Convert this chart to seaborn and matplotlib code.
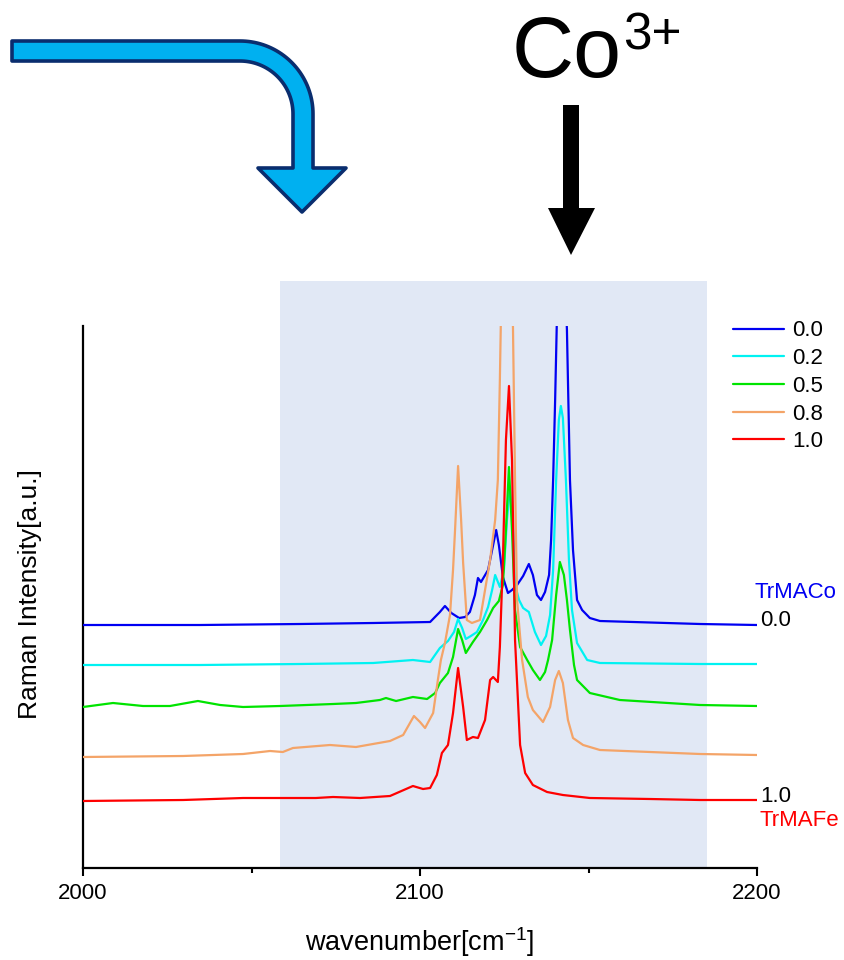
import numpy as np
import pandas as pd
import matplotlib
matplotlib.use('Agg')
import matplotlib.pyplot as plt
import seaborn as sns
from matplotlib.path import Path
from matplotlib.patches import PathPatch, Rectangle, Polygon

# ---------------- data ----------------
series_labels = ['0.0', '0.2', '0.5', '0.8', '1.0']
series_colors = ['#0000F2', '#00F2F2', '#00E400', '#F4A468', '#FF0000']

wn_00 = [2000.0, 2034.7, 2064.4, 2086.1, 2103.0, 2105.9, 2107.4, 2109.3, 2111.6, 2113.4,
         2114.8, 2116.3, 2117.2, 2118.1, 2120.2, 2121.7, 2122.6, 2123.4, 2124.6, 2126.1,
         2127.3, 2128.8, 2130.6, 2132.3, 2133.5, 2134.7, 2135.9, 2137.1, 2138.3, 2138.9,
         2139.5, 2140.1, 2141.0, 2141.8, 2142.7, 2143.6, 2144.5, 2145.4, 2146.6, 2148.1,
         2150.4, 2153.4, 2183.1, 2200.0]
int_00 = [243, 243, 244, 245, 246, 256, 262, 255, 250, 251,
          256, 273, 290, 286, 298, 323, 338, 323, 291, 275,
          278, 283, 292, 304, 293, 273, 268, 276, 293, 328,
          388, 468, 608, 718, 618, 538, 388, 318, 268, 258,
          250, 247, 244, 243]

wn_02 = [2000.0, 2034.7, 2064.4, 2086.1, 2097.9, 2103.0, 2105.9, 2108.3, 2110.1, 2111.3,
         2112.5, 2113.6, 2115.1, 2116.9, 2118.7, 2120.2, 2121.4, 2122.3, 2123.7, 2124.9,
         2125.8, 2126.7, 2127.6, 2128.2, 2129.4, 2130.6, 2132.3, 2134.1, 2135.9, 2137.4,
         2138.6, 2139.5, 2140.4, 2141.2, 2141.8, 2142.4, 2143.3, 2144.2, 2145.1, 2146.6,
         2149.6, 2153.4, 2183.1, 2200.0]
int_02 = [203, 203, 204, 205, 208, 206, 220, 227, 236, 249,
          240, 229, 232, 236, 248, 261, 278, 293, 281, 298,
          348, 381, 338, 283, 268, 260, 256, 236, 223, 232,
          253, 298, 388, 448, 462, 450, 388, 308, 258, 225,
          208, 205, 204, 204]

wn_05 = [2000.0, 2008.9, 2017.8, 2025.8, 2034.1, 2040.7, 2047.5, 2058.5, 2074.2, 2081.0,
         2088.1, 2089.9, 2092.9, 2097.9, 2102.1, 2104.5, 2105.9, 2108.3, 2109.8, 2111.3,
         2112.5, 2113.6, 2115.7, 2117.8, 2119.9, 2121.7, 2123.4, 2124.6, 2125.5, 2126.4,
         2127.3, 2128.2, 2129.7, 2131.8, 2133.5, 2135.6, 2137.1, 2138.0, 2139.2, 2140.4,
         2141.5, 2142.7, 2143.6, 2144.5, 2145.7, 2146.6, 2150.4, 2159.3, 2183.1, 2200.0]
int_05 = [161, 165, 162, 162, 167, 163, 161, 162, 164, 165,
          168, 170, 167, 171, 169, 175, 185, 195, 211, 239,
          228, 215, 226, 236, 248, 260, 267, 283, 338, 401,
          338, 258, 221, 208, 198, 188, 196, 208, 228, 273,
          306, 293, 268, 238, 203, 188, 175, 168, 163, 162]

wn_08 = [2000.0, 2029.7, 2047.5, 2055.5, 2059.3, 2062.3, 2073.3, 2081.0, 2091.1, 2095.0,
         2098.2, 2100.0, 2101.5, 2103.9, 2105.3, 2106.2, 2107.4, 2108.9, 2109.8, 2110.4,
         2111.3, 2112.2, 2112.8, 2113.9, 2115.4, 2117.8, 2119.3, 2120.8, 2122.3, 2123.1,
         2123.7, 2124.6, 2125.8, 2127.0, 2127.6, 2128.2, 2128.8, 2130.3, 2132.0, 2133.5,
         2136.5, 2138.6, 2140.1, 2141.2, 2142.4, 2143.9, 2145.4, 2148.4, 2153.4, 2183.1,
         2200.0]
int_08 = [111, 112, 114, 117, 116, 120, 123, 121, 127, 133,
          152, 146, 140, 155, 188, 208, 225, 253, 298, 338,
          402, 348, 305, 248, 245, 248, 278, 308, 348, 388,
          488, 668, 748, 648, 538, 388, 268, 208, 171, 158,
          146, 161, 188, 197, 185, 148, 130, 123, 118, 114,
          113]

wn_10 = [2000.0, 2029.7, 2047.5, 2069.1, 2074.2, 2082.2, 2091.1, 2097.9, 2100.9, 2103.0,
         2105.0, 2106.5, 2108.3, 2109.8, 2111.3, 2112.8, 2113.9, 2115.7, 2117.2, 2119.3,
         2120.8, 2121.7, 2123.1, 2123.7, 2124.6, 2125.5, 2126.4, 2127.3, 2128.2, 2129.7,
         2131.2, 2133.5, 2137.7, 2142.4, 2150.4, 2168.2, 2183.1, 2200.0]
int_10 = [67, 68, 70, 70, 71, 70, 72, 82, 79, 80,
          93, 115, 123, 155, 200, 161, 128, 131, 130, 148,
          188, 191, 186, 221, 308, 428, 482, 408, 228, 123,
          95, 83, 76, 73, 70, 69, 68, 68]

x_ticks = [2000, 2100, 2200]
x_minor = [2050, 2150]
highlight_range = (2058.5, 2185.2)

# ---------------- styling ----------------
sns.set_theme(style='ticks')
plt.rcParams['font.family'] = ['Liberation Sans', 'DejaVu Sans']
plt.rcParams['mathtext.fontset'] = 'custom'
plt.rcParams['mathtext.rm'] = 'Liberation Sans'
plt.rcParams['mathtext.it'] = 'Liberation Sans:italic'
plt.rcParams['text.color'] = 'black'
plt.rcParams['axes.labelcolor'] = 'black'

W, H = 845, 960
fig = plt.figure(figsize=(W / 100, H / 100), dpi=100)
ax = fig.add_axes([83 / W, (H - 868) / H, 674 / W, 542 / H])

frames = []
for lab, wn, it in zip(series_labels,
                       [wn_00, wn_02, wn_05, wn_08, wn_10],
                       [int_00, int_02, int_05, int_08, int_10]):
    frames.append(pd.DataFrame({'wavenumber': wn, 'intensity': it, 'x': lab}))
df = pd.concat(frames, ignore_index=True)

sns.lineplot(data=df, x='wavenumber', y='intensity', hue='x', hue_order=series_labels,
             palette=dict(zip(series_labels, series_colors)), sort=False, estimator=None,
             lw=1.6, ax=ax, zorder=3)

ax.set_xlim(2000, 2200)
ax.set_ylim(0, 542)

# shaded band (extends above the axes)
ax.add_patch(Rectangle((highlight_range[0], 0), highlight_range[1] - highlight_range[0], 587,
                       facecolor='#E1E8F5', edgecolor='none', clip_on=False, zorder=0.5))

ax.set_xticks(x_ticks)
ax.set_xticks(x_minor, minor=True)
ax.set_xticklabels([str(t) for t in x_ticks])
ax.set_yticks([])
ax.tick_params(axis='x', which='major', direction='out', length=6, width=1.5,
               labelsize=16, pad=5, color='black', labelcolor='black')
ax.tick_params(axis='x', which='minor', direction='out', length=3.5, width=1.5, color='black')
for s in ['top', 'right']:
    ax.spines[s].set_visible(False)
for s in ['left', 'bottom']:
    ax.spines[s].set_linewidth(1.6)
    ax.spines[s].set_color('black')

ax.set_xlabel(r'wavenumber[cm$^{\mathregular{-1}}$]', fontsize=19.5, va='center', color='black')
ax.xaxis.set_label_coords(0.5, (868 - 942) / 542)
ax.set_ylabel('Raman Intensity[a.u.]', fontsize=19, va='center', color='black')
ax.yaxis.set_label_coords((30 - 83) / 674, 0.505)

handles, labels = ax.get_legend_handles_labels()
leg = ax.legend(handles, labels, loc='upper left', bbox_to_anchor=(733 / W, 1 - 320.5 / H),
                bbox_transform=fig.transFigure, frameon=False, borderpad=0, borderaxespad=0,
                handlelength=2.3, handletextpad=0.35, labelspacing=0.3, fontsize=16)
for txt in leg.get_texts():
    txt.set_color('black')

# ---------------- overlay annotations in pixel space ----------------
ov = fig.add_axes([0, 0, 1, 1], zorder=5)
ov.set_xlim(0, W)
ov.set_ylim(H, 0)
ov.axis('off')
ov.patch.set_alpha(0)

ov.text(755, 593, 'TrMACo', color='#0000F2', fontsize=16, ha='left', va='center')
ov.text(760, 620, '0.0', color='black', fontsize=16, ha='left', va='center')
ov.text(760, 797, '1.0', color='black', fontsize=16, ha='left', va='center')
ov.text(760, 821, 'TrMAFe', color='#FF0000', fontsize=16, ha='left', va='center')

ov.text(512, 77, 'Co', color='black', fontsize=62, ha='left', va='baseline')
ov.text(623, 50, '3+', color='black', fontsize=37, ha='left', va='baseline')

# black arrow
ov.add_patch(Polygon([(563, 105), (579, 105), (579, 208), (595, 208), (571, 255),
                      (548, 208), (563, 208)], closed=True, facecolor='black',
                     edgecolor='none'))

# curved blue arrow
cx, cy, r_out, r_in = 240, 114, 73, 53
t = np.linspace(0, np.pi / 2, 40)
outer = [(cx + r_out * np.sin(a), cy - r_out * np.cos(a)) for a in t]
inner = [(cx + r_in * np.sin(a), cy - r_in * np.cos(a)) for a in t[::-1]]
verts = [(12, cy - r_out)] + outer + [(cx + r_out, 168), (346, 168), (302, 212), (258, 168),
                                      (cx + r_in, 168)] + inner + [(12, cy - r_in), (12, cy - r_out)]
codes = [Path.MOVETO] + [Path.LINETO] * (len(verts) - 2) + [Path.CLOSEPOLY]
ov.add_patch(PathPatch(Path(verts, codes), facecolor='#00B0F0', edgecolor='#0A2D6E',
                       lw=2.6, joinstyle='round'))

fig.savefig('out.png', dpi=100)
